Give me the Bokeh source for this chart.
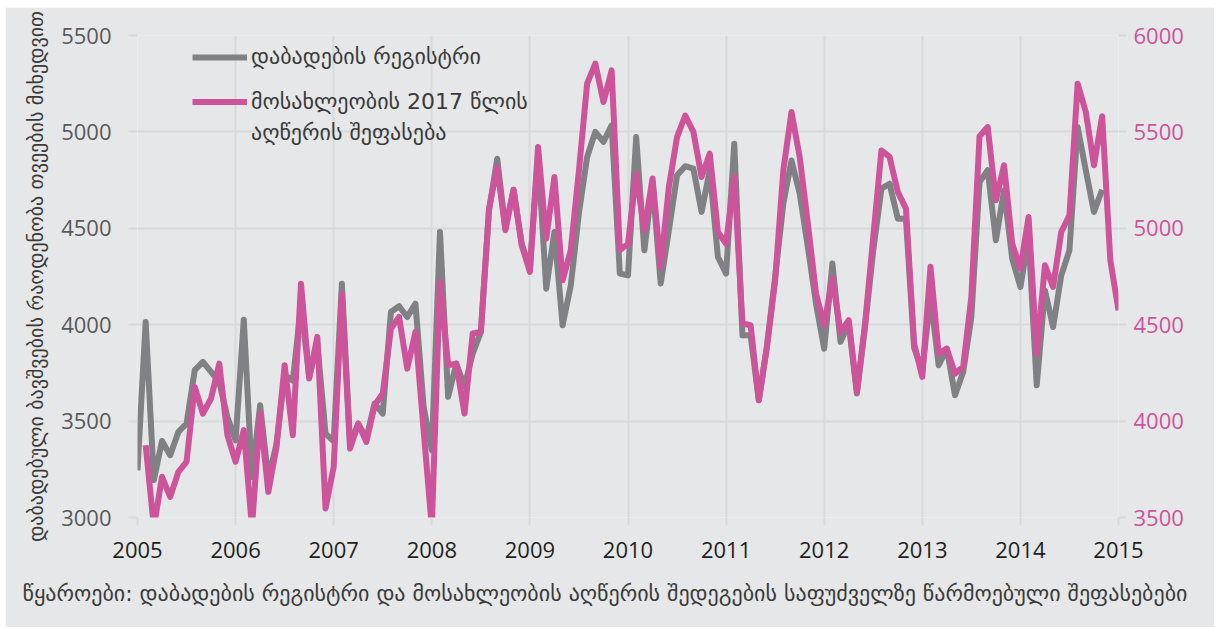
from bokeh.plotting import figure
from bokeh.models import Range1d, LinearAxis, Legend, LegendItem, Title, FixedTicker
from bokeh.embed import file_html
from bokeh.resources import INLINE

# ---------------- data ----------------
start_year = 2005
years = list(range(2005, 2016))
left_ticks = [3000, 3500, 4000, 4500, 5000, 5500]
right_ticks = [3500, 4000, 4500, 5000, 5500, 6000]

# birth registry, monthly, first value = Jan 2005
registry_start_month = 0
registry = [
    3245, 4014, 3194, 3397, 3323, 3444, 3487, 3764, 3807, 3755, 3703, 3520,
    3400, 4026, 3210, 3582, 3200, 3380, 3740, 3710, 4100, 3730, 3900, 3435,
    3395, 4213, 3380, 3487, 3410, 3591, 3539, 4066, 4096, 4040, 4109, 3574,
    3349, 4481, 3626, 3798, 3680, 3850, 3962, 4593, 4861, 4498, 4700, 4420,
    4290, 4880, 4187, 4481, 3997, 4204, 4580, 4870, 5000, 4948, 5034, 4265,
    4256, 4973, 4386, 4740, 4213, 4490, 4775, 4822, 4809, 4585, 4801, 4351,
    4265, 4939, 3945, 3945, 3608, 3890, 4248, 4628, 4852, 4680, 4403, 4109,
    3876, 4317, 3911, 4006, 3643, 3990, 4386, 4706, 4731, 4550, 4550, 3880,
    3760, 4150, 3790, 3876, 3634, 3755, 4040, 4740, 4801, 4438, 4697, 4343,
    4196, 4455, 3686, 4178, 3988, 4256, 4386, 5025, 4801, 4585, 4700,
]

# 2017 census-based estimate (right axis), first value = Feb 2005
census_start_month = 1
census = [
    3875, 3450, 3711, 3607, 3737, 3789, 4177, 4039, 4117, 4298, 3927,
    3789, 3953, 3450, 4039, 3633, 3866, 4290, 3927, 4713, 4221, 4437, 3547,
    3763, 4661, 3858, 3987, 3892, 4082, 4143, 4480, 4540, 4272, 4462, 3953,
    3450, 4722, 4290, 4298, 4039, 4454, 4462, 5102, 5318, 4990, 5200, 4912,
    4774, 5422, 4946, 5266, 4730, 4886, 5301, 5750, 5854, 5655, 5819, 4886,
    4920, 5283, 4990, 5258, 4800, 5214, 5473, 5585, 5500, 5266, 5387, 4981,
    4920, 5266, 4506, 4497, 4108, 4385, 4730, 5301, 5603, 5370, 5024, 4661,
    4497, 4739, 4462, 4523, 4151, 4506, 4955, 5404, 5370, 5189, 5102, 4402,
    4229, 4800, 4350, 4376, 4246, 4281, 4644, 5477, 5525, 5145, 5327, 4920,
    4791, 5059, 4350, 4808, 4696, 4981, 5067, 5750, 5603, 5327, 5581, 4834,
    4575,
]

label_registry = "დაბადების რეგისტრი"
label_census_1 = "მოსახლეობის 2017 წლის"
label_census_2 = "აღწერის შეფასება"
y_label = "დაბადებული ბავშვების რაოდენობა თვეების მიხედვით"
source_text = ("წყაროები: დაბადების რეგისტრი და მოსახლეობის აღწერის შედეგების "
               "საფუძველზე წარმოებული შეფასებები")

registry_x = [start_year + (registry_start_month + i) / 12 for i in range(len(registry))]
census_x = [start_year + (census_start_month + i) / 12 for i in range(len(census))]

# ---------------- style ----------------
BG = "#e6e7e8"
GRID = "#d8d9db"
GRAY = "#808184"
PINK = "#cd539b"
TEXT = "#3a3a3a"
NUM_FONT = "Open Sans"
GEO_FONT = "DejaVu Sans"

p = figure(
    width=1209, height=620,
    x_range=Range1d(2005, 2015), y_range=Range1d(3000, 5500),
    output_backend="svg", toolbar_location=None,
    min_border_left=132, min_border_right=96, min_border_top=28, min_border_bottom=110,
    background_fill_color=BG, border_fill_color=BG, outline_line_color=None,
)
p.styles = {"margin-left": "5px", "margin-top": "7px"}
p.extra_y_ranges = {"census": Range1d(3500, 6000)}

# grids
p.xgrid.ticker = FixedTicker(ticks=years)
p.ygrid.ticker = FixedTicker(ticks=left_ticks)
for g in (p.xgrid[0], p.ygrid[0]):
    g.grid_line_color = GRID
    g.grid_line_width = 2

# x axis
xa = p.xaxis[0]
xa.ticker = FixedTicker(ticks=years)
xa.major_label_text_font = NUM_FONT
xa.major_label_text_font_size = "22px"
xa.major_label_text_color = "#231f20"
xa.axis_line_color = None
xa.major_tick_line_color = GRID
xa.major_tick_line_width = 2
xa.major_tick_in = 0
xa.major_tick_out = 8
xa.minor_tick_line_color = None
xa.major_label_standoff = 16

# left axis
ya = p.yaxis[0]
ya.ticker = FixedTicker(ticks=left_ticks)
ya.major_label_text_font = NUM_FONT
ya.major_label_text_font_size = "22px"
ya.major_label_text_color = "#58595b"
ya.axis_line_color = None
ya.major_tick_line_color = GRID
ya.major_tick_line_width = 2
ya.major_tick_in = 0
ya.major_tick_out = 9
ya.minor_tick_line_color = None
ya.major_label_standoff = 17

# right axis
ra = LinearAxis(y_range_name="census", ticker=FixedTicker(ticks=right_ticks))
ra.major_label_text_font = NUM_FONT
ra.major_label_text_font_size = "22px"
ra.major_label_text_color = PINK
ra.axis_line_color = None
ra.major_tick_line_color = GRID
ra.major_tick_line_width = 2
ra.major_tick_in = 0
ra.major_tick_out = 8
ra.minor_tick_line_color = None
ra.major_label_standoff = 7
p.add_layout(ra, "right")

# y-axis caption (vertical, left of the tick labels)
ytitle = Title(text=y_label, align="center", offset=-13, standoff=21,
               text_font=GEO_FONT, text_font_size="20px", text_font_style="normal",
               text_color=TEXT)
p.add_layout(ytitle, "left")

# source note below the chart
stitle = Title(text=source_text, align="left", offset=-115, standoff=37,
               vertical_align="bottom",
               text_font=GEO_FONT, text_font_size="22px", text_font_style="normal",
               text_color=TEXT)
p.add_layout(stitle, "below")

# lines
r_reg = p.line(registry_x, registry, line_color=GRAY, line_width=6, line_join="round")
r_cen = p.line(census_x, census, y_range_name="census", line_color=PINK,
               line_width=6, line_join="round")
r_blank = p.line(x=[], y=[], line_alpha=0)

common = dict(
    glyph_width=55, label_standoff=4, padding=0, margin=0,
    border_line_color=None, background_fill_alpha=0,
    label_text_font=GEO_FONT, label_text_font_size="22px", label_text_color=TEXT,
)
leg1 = Legend(items=[LegendItem(label=label_registry, renderers=[r_reg])],
              location=(55, 448), glyph_height=24, label_height=24, **common)
leg2 = Legend(items=[LegendItem(label=label_census_1, renderers=[r_cen]),
                     LegendItem(label=label_census_2, renderers=[r_blank])],
              location=(55, 369), glyph_height=31, label_height=31, spacing=0, **common)
p.add_layout(leg1)
p.add_layout(leg2)

open("out.html", "w").write(file_html(p, INLINE))
